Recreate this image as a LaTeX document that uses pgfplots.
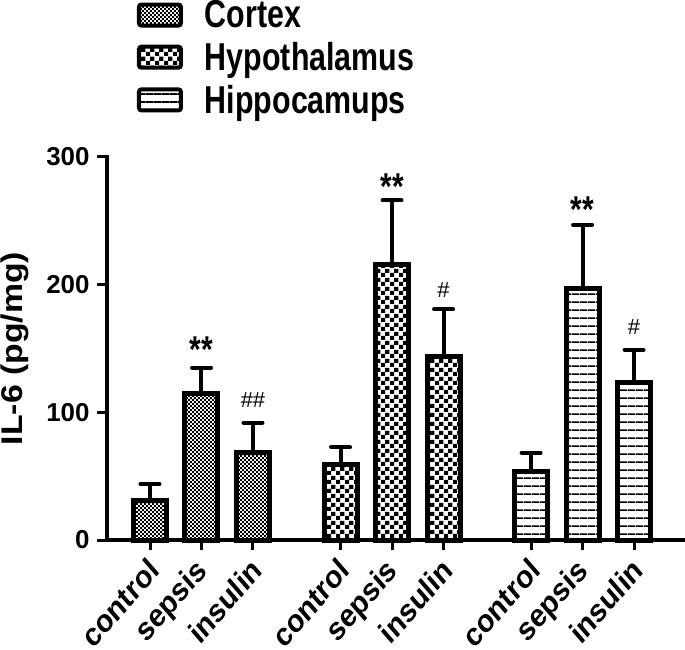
\documentclass[border=0pt]{standalone}
\usepackage{fontspec}
\setmainfont{Liberation Sans}
\usepackage{graphicx}
\usepackage{pgfplots}
\usepackage{pgfplotstable}
\pgfplotsset{compat=1.18}
\usetikzlibrary{patterns.meta}

\tikzdeclarepattern{name=finecheck, type=uncolored,
  tile size={(4.4bp,4.4bp)}, bounding box={(0,0) and (4.4bp,4.4bp)},
  code={\fill (0,0) rectangle (2.2bp,2.2bp); \fill (2.2bp,2.2bp) rectangle (4.4bp,4.4bp);}}
\tikzdeclarepattern{name=bigcheck, type=uncolored,
  tile size={(8.6bp,8.6bp)}, bounding box={(0,0) and (8.6bp,8.6bp)},
  code={\fill (0,0) rectangle (4.3bp,4.3bp); \fill (4.3bp,4.3bp) rectangle (8.6bp,8.6bp);}}
\tikzdeclarepattern{name=hlines, type=uncolored,
  tile size={(7.7bp,7.7bp)}, bounding box={(0,0) and (7.7bp,7.7bp)},
  code={\fill (0,0) rectangle (7.7bp,1.8bp);}}

\pgfplotstableread{
x y e
0 31 13
1 115 20
2 68.5 23.5
}\cortex
\pgfplotstableread{
x y e
3.7 59.4 13.2
4.7 216 50
5.7 143.5 37.2
}\hypo
\pgfplotstableread{
x y e
7.4 54 14.4
8.4 197 50
9.4 123 26
}\hippo

\newcommand{\xl}[1]{\scalebox{1}[1.15]{\rotatebox{45}{#1}}}

\begin{document}
\begin{tikzpicture}
\begin{axis}[name=ax,
  scale only axis, width=576bp, height=383bp,
  xmin=-0.835, xmax=10.35, ymin=0, ymax=300,
  axis lines*=left, clip=false,
  axis line style={line width=3.5bp, black, line cap=rect},
  tick align=outside, major tick length=10bp,
  tick style={line width=3bp, black},
  ytick={0,100,200,300},
  xtick={0,1,2,3.7,4.7,5.7,7.4,8.4,9.4},
  xticklabels={\xl{control},\xl{sepsis},\xl{insulin},\xl{control},\xl{sepsis},\xl{insulin},\xl{control},\xl{sepsis},\xl{insulin}},
  /pgf/number format/assume math mode=true,
  yticklabel style={font=\fontsize{26}{30}\selectfont\bfseries, xshift=-4bp},
  xticklabel style={font=\fontsize{28}{32}\selectfont\bfseries, anchor=north east, inner sep=0pt, xshift=11bp, yshift=-6bp},
  ylabel={\scalebox{1.13}[1]{IL-6 (pg/mg)}},
  ylabel style={font=\fontsize{30}{36}\selectfont\bfseries, at={(axis description cs:-0.16,0.5)}, anchor=center},
  legend style={at={(axis description cs:0.052,1.408)}, anchor=north west, draw=none, fill=none,
    inner sep=0pt, outer sep=0pt, row sep=13bp, font=\fontsize{30.5}{36}\selectfont\bfseries,
    nodes={inner sep=0pt}},
  legend cell align=left,
  every axis plot/.append style={ybar, bar width=33bp, bar shift=0pt, draw=black, line width=5bp, line join=miter},
  error bars/error bar style={line width=4bp, black},
  error bars/error mark options={rotate=90, line width=4bp, mark size=9.5bp, black, line cap=round},
]
\addplot[pattern=finecheck, forget plot, error bars/.cd, y dir=plus, y explicit] table[x=x,y=y,y error=e]{\cortex};
\addplot[pattern=bigcheck, forget plot, error bars/.cd, y dir=plus, y explicit] table[x=x,y=y,y error=e]{\hypo};
\addplot[pattern=hlines, forget plot, error bars/.cd, y dir=plus, y explicit] table[x=x,y=y,y error=e]{\hippo};

\addlegendimage{legend image code/.code={\draw[pattern=finecheck, line width=4bp, rounded corners=2.5bp] (0bp,-10.5bp) rectangle (42bp,10.5bp);}}
\addlegendentry{\hspace{22bp}\scalebox{1}[1.28]{Cortex}}
\addlegendimage{legend image code/.code={\draw[pattern=bigcheck, line width=4bp, rounded corners=2.5bp] (0bp,-10.5bp) rectangle (42bp,10.5bp);}}
\addlegendentry{\hspace{22bp}\scalebox{1}[1.28]{Hypothalamus}}
\addlegendimage{legend image code/.code={\draw[pattern=hlines, line width=4bp, rounded corners=2.5bp] (0bp,-10.5bp) rectangle (42bp,10.5bp);}}
\addlegendentry{\hspace{22bp}\scalebox{1}[1.28]{Hippocamups}}

\node[font=\fontsize{30}{36}\selectfont\bfseries] at (axis cs:1,149) {\scalebox{1}[1.25]{**}};
\node[font=\fontsize{30}{36}\selectfont\bfseries] at (axis cs:4.7,277) {\scalebox{1}[1.25]{**}};
\node[font=\fontsize{30}{36}\selectfont\bfseries] at (axis cs:8.4,258.7) {\scalebox{1}[1.25]{**}};
\node[font=\fontsize{22}{26}\selectfont] at (axis cs:2,109.7) {\#\#};
\node[font=\fontsize{22}{26}\selectfont] at (axis cs:5.7,195.8) {\#};
\node[font=\fontsize{22}{26}\selectfont] at (axis cs:9.4,167) {\#};
\end{axis}
\pgfresetboundingbox
\path[use as bounding box] ([shift={(-107bp,-110bp)}]ax.south west) rectangle ([shift={(578bp,540bp)}]ax.south west);
\end{tikzpicture}
\end{document}
